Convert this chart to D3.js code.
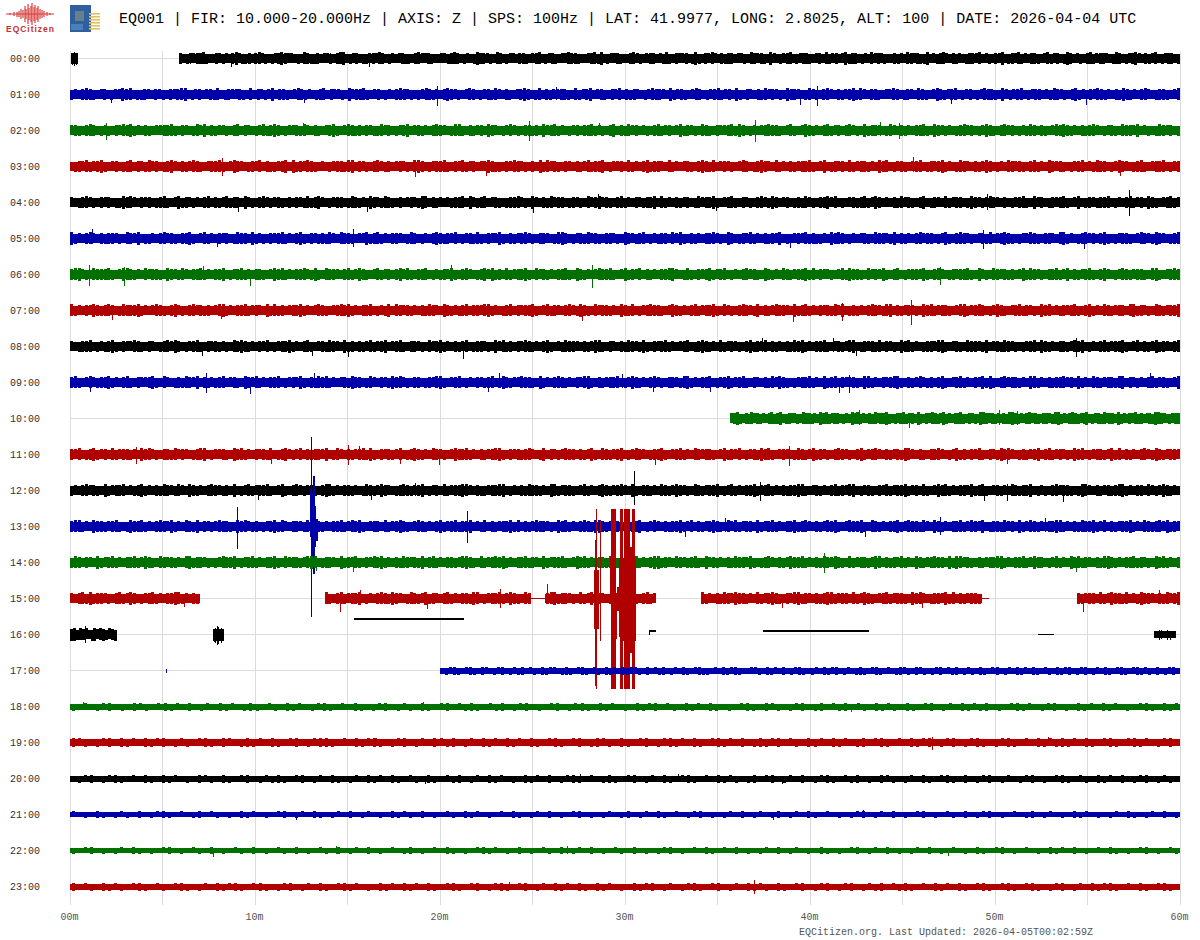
<!DOCTYPE html>
<html><head><meta charset="utf-8"><title>EQ001 helicorder</title>
<style>html,body{margin:0;padding:0;background:#fff}svg{display:block}text{font-family:"Liberation Mono",monospace}</style>
<script src="https://d3js.org/d3.v7.min.js"></script></head><body>
<div id="chart"></div>
<script>
// ---- labels -------------------------------------------------------------
const titleText = "EQ001 | FIR: 10.000-20.000Hz | AXIS: Z | SPS: 100Hz | LAT: 41.9977, LONG: 2.8025, ALT: 100 | DATE: 2026-04-04 UTC";
const footerText = "EQCitizen.org. Last Updated: 2026-04-05T00:02:59Z";
const hourLabels = ["00:00","01:00","02:00","03:00","04:00","05:00","06:00","07:00","08:00","09:00","10:00","11:00","12:00","13:00","14:00","15:00","16:00","17:00","18:00","19:00","20:00","21:00","22:00","23:00"];
const minuteTicks = [0,10,20,30,40,50,60];
const gridMinutes = [0,5,10,15,20,25,30,35,40,45,50,55,60];
const traceColors = ["#000000","#0000aa","#007000","#b00000"];
// ---- recording segments per row: [start minute, end minute, half amplitude] ----
const rowSegments = [
 [[0.05,0.43,5.5],[5.9,60,4.3]],[[0,60,4.6]],[[0,60,4.6]],[[0,60,4.5]],[[0,60,4.2]],[[0,60,4.6]],[[0,60,4.6]],[[0,60,4.6]],[[0,60,4.3]],[[0,60,4.6]],
 [[35.7,60,4.5]],[[0,60,4.5]],[[0,60,4.3]],[[0,60,4.6]],[[0,60,4.5]],
 [[0,7.03,4.5],[13.78,24.9,4.5],[24.9,25.7,0.5],[25.7,31.7,4.5],[34.16,49.3,4.5],[49.3,49.7,0.5],[54.5,60,4.5]],
 [[0,2.54,4.5],[7.73,8.32,6],[58.6,59.8,3.5]],
 [[20,60,3]],[[0,60,3]],[[0,60,3.3]],[[0,60,3]],[[0,60,2.7]],[[0,60,2.7]],[[0,60,3]]
];
const rowDataStart = {0:5.9,10:35.7,17:20};
// ---- edge roughness of the traces, one digit per small step from the start of each row's data.
// each digit packs two small excursions past the band: (upper, lower), both 0..2
const edgeRows = [
"4013344710043130483114047310134843301074114033104780134011343740130341104733410033147401301844310740133044103470134103374410034718013341004731034403171043340181043730414403310743410830134701344103407134038144013073431004130743411803147304130144370310438014371304410371340184031047134430174013483041370134401",
"1304741034013384701143043104347801340341701433410704313804410374130147043310834471034013047431013741304843103740134173041034840170413344107134803410437041430137443081341037401347134081043041734310844301731047304134817304410337401430741038413470134013744108313470134403174310481304374130418413047301441037",
"3410474013104374813041033447104301738041331047043013714840133417304103481037414043117340134803413047430177104134084301373104414083471301340447131048041734031047134038143107410433471840130347441037103841304713404731081443017304130447108431301473401384104734013174041037484130414730134107443803101743401",
"0143713481034014704317340148304137410344710384301437041134808143741030134417804310473140343107840134471043713403384110437431040817341043041371448013340713048144307130341048417034310374014843071304134471038014340713441308470134103470143481301743041384013074341047130843410134703174401384301471034470134",
"3014731043401184730434014710381431304704137144083104731341040431714830134401741308431741040343187041303144708314703410144731083041734401431073483410471304314480713041340173448103471043104731840340141731044837010341471384030417341048014307134401843137430401347108340143471038014314470130471340841034713",
"8130473041443107438011304734104481037130434017440813104347130481043141730744103381471304430174013048414370134171043381041347310443017840134173410443108431470131440738104130447310840143713041438010343714113084740130341074431804130473440138104743103417034841013374104430781301473404810134410374318430147",
"4783107444710387413073441084317304471304480134713044103847130447318107443047138410371340483710447013143810473014838140713448107341304471084130374471038143704130447830171043481347013047341084130741344817043310371844107343810470134438104730143447108310743414038174310447138041347104830137413441078103474",
"7130438414730174448130374104831047341403781304471343081714034481303741034748130447013180743413041743084131470443781301470434481037143047318410734413084170134744103841304713448107310474318041374430814713043417380141304743178041343108471344103781347401384103471431084703143471048130741344078143107413448",
"3014470131481043374104301473840134710434131074841304370134481304710341743081404137134803471044310734813041370144310837140437413048103174430413871043041743181043471303470148413071343104814370413041748130447103413780143417043108471301443781034107443180341743101347084130441374801304713448103704138143047",
"4710373144813047104334810730141743804131470341084371304470134381041747130341844017304318473104401437810347013043147018413374410813047413043781041344701384130473104431781304470134813471043041738410134471308147043341087130434781041373140481034713043818104734413087130414473408130741344178043130471341038",
"3481041734130471480143310744130847134401308471304173448101347134081043741381304471043108743413041784130473410443178130474134801341734408130437140341874301344",
"4370148134071344130847310441734301478013341084713043417014831370414438017304134718104341370148413074310384471304134781043414730180431374404138107413480137430144810347130743441038143701341847103430174138143104743104813473041341873041044730138140437104318473014134804713431084701344138170413047318413443",
"1304734108134470314813041743173084130474314080137134471038104731341048713044130174138430147413480134071344873041134478013041744130871344103713048413473081044130741384310741344801371304481347130414487103413047143780134104371344813407103847130443814710341307414480131047344101873041341478130440731384130",
"4771308441347101844713047438130741804313744108473140134817304431708413044713748103440713484103741304813471448031704134481704137443108471304741884130437414801373041448137041348410737134408134713044814730413748103744810741304481374417308413044713743801441734081374130448713041744813704134481307414738143",
"1740430813471304471384107434130781443101374480134713044810734413787014430814371043748130417434180471304413784107134748130447143081344710384713044178104437130488143074314710834130417443810147304138447130417438410713441387041437130841347440818734104134478130447138440137130847143041784130447143108471304",
"3047181443104713840134713044871304174438101473044813471043817304144387104713448013047418430174138143047130441870134471384107431304781443107138443017413841047134048713044187130417438441307134841043781430414871344071384103471344108473014438170413441873014471384401731043481704134407138441703184430417348",
"5817460283751642",
"0134103410430134013140310413301410341031041304133104031401304103411030413410033104130401341013041340130141034103014310431013403140131041034013041304103104134013401304103410341310401340",
"1030134010431034130401304130141031041301341030410134013104103403141031401340103401341041301041340310413041010341043101340140314031041310410340130413140103413013401041304130103410413",
"4310134041304134013103410430141304103401344103041341013401304314013041304130410341034014310410340134130410341304014134031041304130140341030413401340134101341030413141304103410341301340",
"0134013410304104130104310410340131410340130410130413041031041031401304130104130401341030141034013041034103041310140340130401341031401043101304103410401340130134010341031041304013401310",
"3010410131040134103014031010413010340130410130401301041310401031041301030410130401034010130140130410301340101304013014013041030101340130401034010310401340103014013010413010130410130401",
"1034010130410103401031040103104010310401031040130401030140103041010341301040103104013040103104010134010304103040101304013010410103401304010130401030104103401030104130401030410103401031",
"4031041310341031034101304134103410134013041034130104130413041034103401341034013041304104130104134013013410340130413104103401340134013140314103041304103410341034101340130413410304103410"
];
// ---- isolated spikes: [row, minute, up, down] ---------------------------
const spikes = [
 [0,0.15,6,6],[0,0.25,7,7],[0,0.35,6,6],[0,8.74,4,8],[0,16.2,4,8],[0,6.5,6,5],[0,14.1,6,5],
 [1,2.25,3,8],[1,12.7,4,8],[1,19.86,9,11],[1,26.3,8,5],[1,39.5,3,10],[1,40.4,9,11],[1,47.66,5,9],[1,54.96,5,10],
 [2,1.95,8,9],[2,12.6,8,4],[2,24.86,10,10],[2,28.6,8,4],[2,37.03,11,11],[2,43.8,9,5],[2,44.83,8,8],
 [3,8.25,9,9],[3,18.67,4,10],[3,22.5,5,9],[3,45.6,10,5],[3,56.76,5,9],
 [4,9.1,5,9],[4,16.07,5,9],[4,25.05,6,10],[4,28.56,9,5],[4,34.92,5,8],[4,49.58,9,7],[4,57.26,13,13],
 [5,1.2,10,5],[5,7.95,5,8],[5,15.3,10,8],[5,38.92,5,9],[5,49.4,9,10],[5,54.85,5,10],
 [6,1.05,10,11],[6,2.97,8,11],[6,7.2,9,5],[6,9.75,5,11],[6,20.6,10,5],[6,28.23,10,13],[6,47.06,8,10],
 [7,2.29,5,9],[7,8.2,5,8],[7,27.7,5,10],[7,39.13,5,11],[7,41.75,8,10],[7,45.48,11,14],
 [8,7.15,5,9],[8,13.1,5,9],[8,15.05,5,10],[8,21.26,5,12],[8,37.42,9,5],[8,41.26,9,5],[8,42.52,5,9],[8,54.41,9,10],
 [9,1.1,5,9],[9,7.4,10,10],[9,9.73,5,11],[9,13.24,10,5],[9,22.63,5,9],[9,23.24,10,5],[9,29.87,9,5],[9,31.53,5,9],[9,34.6,5,9],[9,42.16,8,10],[9,41.62,5,10],[9,58.38,10,5],
 [10,42.65,9,6],[10,45.4,6,9],[10,50.27,9,6],[10,51.2,8,6],
 [11,3.6,8,9],[11,10.9,5,9],[11,15.05,10,10],[11,15.64,9,5],[11,17.84,5,9],[11,19.97,5,10],[11,31.66,5,10],[11,38.88,9,11],[11,50.7,5,9],
 [12,10.2,5,9],[12,16.3,5,9],[12,18.7,8,5],[12,30.53,20,14],[12,37.3,9,10],[12,49.45,5,10],[12,50.65,7,10],[12,53.7,5,11],
 [13,9.08,20,22],[13,21.46,16,16],[13,33.25,5,10],[13,35.45,9,5],[13,43,5,10],[13,47.04,10,8],[13,52.75,9,5],
 [14,13.3,6,8],[14,15.3,5,9],[14,40.77,10,10],[14,54.4,5,9],
 [15,6.2,4,8.5],[15,14.6,5,13],[15,15.72,9,5],[15,19.3,5,10],[15,23.25,10,9],[15,25.8,15,5],[15,38.5,5,9],[15,46.1,5,9],[15,54.8,5,13],[15,58.9,9,5],
 [16,0.86,8.5,8],[16,7.8,6,7],[16,7.85,7,8],[16,7.95,9,10],[16,8.05,8,9],[16,8.2,7,8],[16,58.9,5,5],[16,59.0,5,4],[16,59.3,5,5],[16,59.5,4,5],
 [18,0.72,5,3],[18,19.1,5,3],[18,42.25,3,5],
 [19,16.55,5,3],[19,46.6,6,7],[19,52.9,6,3],
 [20,19.22,3,5],[20,27.6,5,3],[20,32.9,5,3],[20,38.5,3,5],
 [21,12.25,3,5],[21,38.05,3,5],[21,42.9,5,3],
 [22,7.78,3,6.5],[22,14.4,5,3],[22,26.9,5,3],[22,47.5,3,5],
 [23,23.73,5,3],[23,37,7,7]
];
// ---- large clipped events: [row, start minute, end minute, up, down] ----
const bursts = [
 [13,12.97,13.03,39,10],[13,13.03,13.08,90,90],[13,13.08,13.16,34,30],[13,13.16,13.24,51,47],[13,13.24,13.3,21,20],[13,13.3,13.38,8,14],
 [15,28.3,28.59,29,30],[15,28.38,28.42,59,87],[15,28.42,28.47,90,90],[15,28.64,28.68,78,42],
 [15,29.19,29.24,43,5],[15,29.24,29.51,90,90],[15,29.51,29.57,5,40],[15,29.57,29.68,12,12],[15,29.68,29.73,41,38],[15,29.73,29.89,90,90],
 [15,29.89,29.95,41,42],[15,29.95,30.27,90,90],[15,30.27,30.38,52,54],[15,30.38,30.54,90,90],[15,30.54,30.59,41,42]
];
// ---- flat stretches of the 16:00 trace off the row baseline: [start, end, offset, thickness] ----
const row16Strokes = [[15.35,21.3,16,2],[31.3,31.7,4,2],[37.46,43.2,4,2],[52.3,53.2,0,1]];
const row17Marks = [[5.2,5.27,2,4]];
// ---- logo wave ----------------------------------------------------------
const logoWave = [[10,13,15],[14,12,16],[17,12,17],[19,11,17],[21,9,19],[23,10,18],[25,6,22],[26,9,19],[28,4,24],[29,8,20],[31,6,22],[32,3,25],[34,7,21],[35,5,23],[37,8,20],[38,6,22],[40,9,19],[42,10,18],[44,11,17],[47,12,16],[50,13,15]];

const W = 1200, H = 940;
const x = d3.scaleLinear().domain([0,60]).range([70,1180]);
const y = d3.scaleLinear().domain([0,23]).range([58.5,886.5]);
const amp = d3.scaleLinear().domain([0,1]).range([0,1]);
const svg = d3.select("#chart").append("svg").attr("width",W).attr("height",H);
const crisp = v => Math.floor(v)+0.5;

// grid
const grid = svg.append("g").attr("stroke","#dcdcdc").attr("stroke-width",1).attr("shape-rendering","crispEdges");
grid.selectAll("line.v").data(gridMinutes).join("line").attr("class","v")
  .attr("x1",d=>crisp(x(d))).attr("x2",d=>crisp(x(d))).attr("y1",51).attr("y2",905);
grid.selectAll("line.h").data(hourLabels).join("line").attr("class","h")
  .attr("x1",x(0)).attr("x2",x(60)).attr("y1",(d,i)=>crisp(y(i))).attr("y2",(d,i)=>crisp(y(i)));

// axes
const xAxis = svg.append("g").attr("transform","translate(-1,909)")
  .call(d3.axisBottom(x).tickValues(minuteTicks).tickSize(0).tickPadding(4).tickFormat(d=>String(d).padStart(2,"0")+"m"));
xAxis.select(".domain").remove();
xAxis.selectAll("text").attr("font-size",10).attr("fill","#555").attr("font-family","Liberation Mono");
const yAxis = svg.append("g").attr("transform","translate(40,0)")
  .call(d3.axisLeft(d3.scaleLinear().domain([0,23]).range([58.5,886.5])).tickValues(d3.range(24)).tickSize(0).tickPadding(0).tickFormat(i=>hourLabels[i]));
yAxis.select(".domain").remove();
yAxis.selectAll("text").attr("font-size",10).attr("fill","#333").attr("font-family","Liberation Mono");

// traces (drawn hour by hour, later hours on top)
const traces = svg.append("g").attr("shape-rendering","crispEdges");
hourLabels.forEach((lab,r)=>{
  const color = traceColors[r%4], cy = y(r), g = traces.append("g").attr("fill",color).attr("stroke",color);
  const segs = rowSegments[r];
  const segAt = m => segs.find(s=>m>=s[0]&&m<=s[1]&&s[2]>1);
  g.selectAll("rect.core").data(segs).join("rect").attr("class","core").attr("stroke","none")
    .attr("x",s=>x(s[0])).attr("width",s=>Math.max(1,x(s[1])-x(s[0])))
    .attr("y",s=>cy-amp(s[2])).attr("height",s=>2*amp(s[2]));
  const start = rowDataStart[r] || 0, str = edgeRows[r];
  const stepScale = d3.scaleLinear().domain([0,str.length]).range([start,r===16?2.54:60]);
  const tdata = str.split("").map((c,i)=>({m:stepScale(i+0.5),d:+c})).filter(d=>segAt(d.m))
    .map(d=>({m:d.m,c:segAt(d.m)[2],u:Math.floor(d.d/3),v:d.d%3}));
  g.selectAll("line.t").data(tdata).join("line").attr("class","t").attr("stroke-width",3)
    .attr("x1",d=>x(d.m)).attr("x2",d=>x(d.m))
    .attr("y1",d=>cy-amp(d.c+d.u)).attr("y2",d=>cy+amp(d.c+d.v));
  const sp = spikes.filter(s=>s[0]===r);
  g.selectAll("line.s").data(sp).join("line").attr("class","s").attr("stroke-width",1)
    .attr("x1",s=>crisp(x(s[1]))).attr("x2",s=>crisp(x(s[1]))).attr("y1",s=>cy-amp(s[2])).attr("y2",s=>cy+amp(s[3]));
  g.selectAll("rect.b").data(bursts.filter(b=>b[0]===r)).join("rect").attr("class","b").attr("stroke","none")
    .attr("x",b=>x(b[1])).attr("width",b=>Math.max(1,x(b[2])-x(b[1])))
    .attr("y",b=>cy-amp(b[3])).attr("height",b=>amp(b[3])+amp(b[4]));
  if(r===16){
    g.selectAll("rect.st").data(row16Strokes).join("rect").attr("class","st").attr("stroke","none")
      .attr("x",s=>x(s[0])).attr("width",s=>x(s[1])-x(s[0])).attr("y",s=>Math.floor(cy-amp(s[2])-s[3]/2+0.5)).attr("height",s=>s[3]);
    g.append("line").attr("stroke-width",1).attr("x1",crisp(x(31.3))).attr("x2",crisp(x(31.3))).attr("y1",cy-amp(5)).attr("y2",cy);
  }
  if(r===17){
    g.selectAll("rect.mk").data(row17Marks).join("rect").attr("class","mk").attr("stroke","none")
      .attr("x",s=>x(s[0])).attr("width",s=>Math.max(1,x(s[1])-x(s[0]))).attr("y",s=>cy-amp(s[2])).attr("height",s=>amp(s[3]));
  }
});

// header
svg.append("text").attr("x",119).attr("y",23).attr("font-size",15).attr("fill","#000").text(titleText);
svg.append("text").attr("x",799).attr("y",935).attr("font-size",10).attr("fill","#555").text(footerText);

// logo
const logo = svg.append("g");
logo.selectAll("line").data(logoWave).join("line").attr("stroke","#d83c3c").attr("stroke-width",1.2)
  .attr("x1",d=>d[0]).attr("x2",d=>d[0]).attr("y1",d=>d[1]).attr("y2",d=>d[2]);
logo.append("line").attr("x1",6).attr("x2",54).attr("y1",14).attr("y2",14).attr("stroke","#d83c3c");
logo.append("text").attr("x",6).attr("y",32).attr("font-size",8.5).attr("font-weight",700).attr("fill","#c83030")
  .attr("style","font-family:'Liberation Sans',sans-serif").attr("textLength",48).text("EQCitizen");
// sensor board icon
const board = svg.append("g");
board.append("rect").attr("x",70).attr("y",5).attr("width",21).attr("height",27).attr("fill","#2f5f9e");
board.append("rect").attr("x",75).attr("y",11).attr("width",9).attr("height",10).attr("fill","#6a7f8e");
board.append("rect").attr("x",71).attr("y",24).attr("width",12).attr("height",6).attr("fill","#4a7fb8");
board.selectAll("rect.pin").data(d3.range(6)).join("rect").attr("class","pin")
  .attr("x",89).attr("y",i=>13+i*3).attr("width",11).attr("height",1.6).attr("fill","#e2c060");
</script></body></html>
